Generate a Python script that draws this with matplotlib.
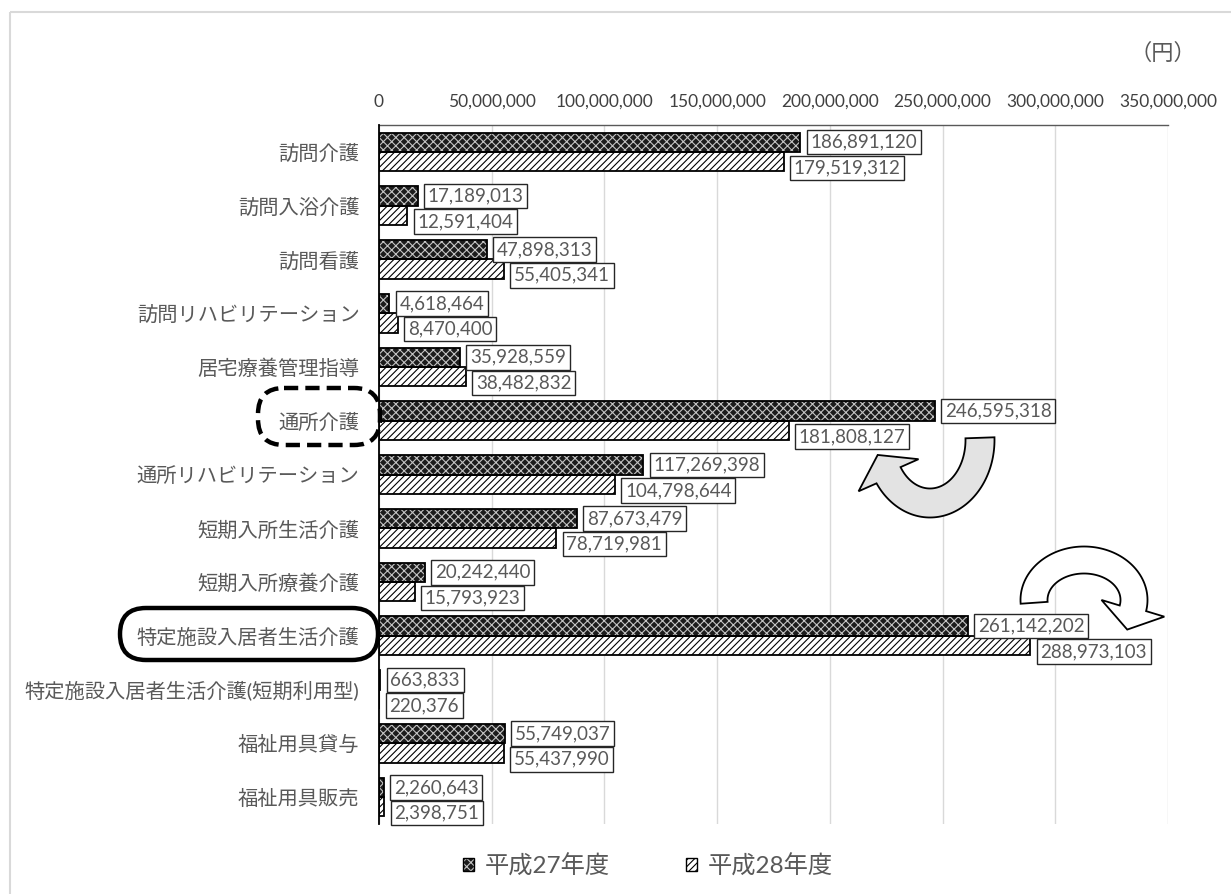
import numpy as np
import matplotlib
matplotlib.use("Agg")
import matplotlib.pyplot as plt
import matplotlib.transforms as mtransforms
from matplotlib.patches import Rectangle, FancyBboxPatch, Polygon, Patch
from matplotlib.legend_handler import HandlerTuple
from matplotlib.ticker import FuncFormatter, MultipleLocator

plt.rcParams['font.family'] = ['Lato', 'Noto Sans CJK JP', 'DejaVu Sans']
plt.rcParams['hatch.linewidth'] = 0.8

# サービス種類別の給付費（円）
categories = [
    "訪問介護", "訪問入浴介護", "訪問看護", "訪問リハビリテーション",
    "居宅療養管理指導", "通所介護", "通所リハビリテーション",
    "短期入所生活介護", "短期入所療養介護", "特定施設入居者生活介護",
    "特定施設入居者生活介護(短期利用型)", "福祉用具貸与", "福祉用具販売",
]
h27 = [186891120, 17189013, 47898313, 4618464, 35928559, 246595318,
       117269398, 87673479, 20242440, 261142202, 663833, 55749037, 2260643]
h28 = [179519312, 12591404, 55405341, 8470400, 38482832, 181808127,
       104798644, 78719981, 15793923, 288973103, 220376, 55437990, 2398751]
series_names = ["平成27年度", "平成28年度"]
x_max = 350_000_000
x_step = 50_000_000

W, H = 1231, 894
fig = plt.figure(figsize=(W / 100, H / 100), dpi=100)
# pixel coordinates measured from the top-left corner of the figure
px = mtransforms.Affine2D().scale(1 / W, -1 / H).translate(0, 1) + fig.transFigure


def curved_arrow(center, radii, theta0, theta1, band, head_w, head_len, n=80):
    """Outline of a block arrow bent along an elliptical arc (pixel coords, y down)."""
    cx, cy = center
    rx, ry = radii
    th = np.radians(np.linspace(theta0, theta1, n))
    outer = np.c_[cx + (rx + band / 2) * np.cos(th), cy + (ry + band / 2) * np.sin(th)]
    inner = np.c_[cx + (rx - band / 2) * np.cos(th), cy + (ry - band / 2) * np.sin(th)]
    t1 = th[-1]
    p_end = np.array([cx + rx * np.cos(t1), cy + ry * np.sin(t1)])
    tang = np.array([-rx * np.sin(t1), ry * np.cos(t1)]) * np.sign(theta1 - theta0)
    tang /= np.hypot(*tang)
    nrm = np.array([-tang[1], tang[0]])
    if np.dot(nrm, p_end - np.array(center)) < 0:
        nrm = -nrm
    head = [p_end + nrm * head_w / 2, p_end + tang * head_len, p_end - nrm * head_w / 2]
    return np.vstack([outer, head, inner[::-1]])


# chart-area frame
fig.add_artist(Rectangle((10, 12), 1300, 1000, transform=px, fill=False,
                         ec="#d9d9d9", lw=1.5, zorder=0))

ax = fig.add_axes([379 / W, 1 - 824 / H, (1168 - 379) / W, (824 - 125) / H])

y = list(range(len(categories)))
bh = 0.36
y27 = [v - bh / 2 for v in y]
y28 = [v + bh / 2 for v in y]

face27, hatchcol27 = "#1c1c1c", "#c4c4c4"
ax.barh(y27, h27, height=bh, color=face27, edgecolor=hatchcol27, hatch="xxxx",
        linewidth=0, zorder=2)
ax.barh(y27, h27, height=bh, fill=False, edgecolor="black", linewidth=1.3, zorder=3)
ax.barh(y28, h28, height=bh, color="white", edgecolor="black", hatch="/////",
        linewidth=0, zorder=2)
ax.barh(y28, h28, height=bh, fill=False, edgecolor="black", linewidth=1.3, zorder=3)

box = dict(boxstyle="square,pad=0.2", fc="white", ec="#262626", lw=1.0)
for yy, v in zip(y27, h27):
    ax.annotate(f"{v:,}", (v, yy), xytext=(7.2, 0), textcoords="offset points",
                ha="left", va="center", fontsize=13.5, color="#595959",
                bbox=box, zorder=4)
for yy, v in zip(y28, h28):
    ax.annotate(f"{v:,}", (v, yy), xytext=(7.2, -4.5), textcoords="offset points",
                ha="left", va="center", fontsize=13.5, color="#595959",
                bbox=box, zorder=4)

ax.set_xlim(0, x_max)
ax.set_ylim(len(categories) - 0.5, -0.5)
ax.xaxis.set_major_locator(MultipleLocator(x_step))
ax.xaxis.set_major_formatter(FuncFormatter(lambda v, p: f"{int(v):,}"))
ax.xaxis.tick_top()
ax.tick_params(axis="x", length=0, pad=11, labelsize=12.5, labelcolor="#404040")
ax.set_yticks(y)
ax.set_yticklabels(categories)
ax.tick_params(axis="y", length=0, pad=14, labelsize=14.6, labelcolor="#595959")
ax.grid(axis="x", color="#d9d9d9", lw=1.0, zorder=0)
ax.set_axisbelow(True)
for s in ["right", "bottom"]:
    ax.spines[s].set_visible(False)
ax.spines["top"].set_color("#595959")
ax.spines["top"].set_linewidth(1.0)
ax.spines["left"].set_color("black")
ax.spines["left"].set_linewidth(1.3)
ax.spines["left"].set_zorder(5)

# unit
fig.text(1196 / W, 1 - 53 / H, "（円）", ha="right", va="center",
         fontsize=16, color="#595959", family=["Noto Sans CJK JP"])

# legend
hd27 = (Patch(fc=face27, ec=hatchcol27, hatch="xxxx", lw=0),
        Patch(fill=False, ec="black", lw=1.0))
hd28 = (Patch(fc="white", ec="black", hatch="/////", lw=0),
        Patch(fill=False, ec="black", lw=1.0))
fig.legend([hd27, hd28], series_names, loc="center",
           bbox_to_anchor=(648 / W, 1 - 866 / H), ncol=2, frameon=False,
           fontsize=17.5, labelcolor="#595959", handlelength=0.45,
           handleheight=0.45, handletextpad=0.45, columnspacing=3.1,
           handler_map={tuple: HandlerTuple(ndivide=1, pad=0)})

# highlight marks around two category labels
fig.add_artist(FancyBboxPatch((258, 388), 122, 57,
                              boxstyle="round,pad=0,rounding_size=26",
                              transform=px, fill=False, ec="black", lw=3.2,
                              linestyle=(0, (3.2, 1.6)), zorder=6))
fig.add_artist(FancyBboxPatch((120, 608), 258, 52,
                              boxstyle="round,pad=0,rounding_size=26",
                              transform=px, fill=False, ec="black", lw=3.2,
                              zorder=6))

# curved arrows
fig.add_artist(Polygon(curved_arrow((930, 440), (50, 63), -2, 146, 29, 68, 23),
                       closed=True, transform=px, fc="#e3e3e3", ec="black",
                       lw=1.3, joinstyle="miter", zorder=6))
fig.add_artist(Polygon(curved_arrow((1084, 600), (50, 40), 176, 372, 27, 65, 22),
                       closed=True, transform=px, fc="white", ec="black",
                       lw=1.3, joinstyle="miter", zorder=6))

fig.savefig("out.png", dpi=100, facecolor="white")
